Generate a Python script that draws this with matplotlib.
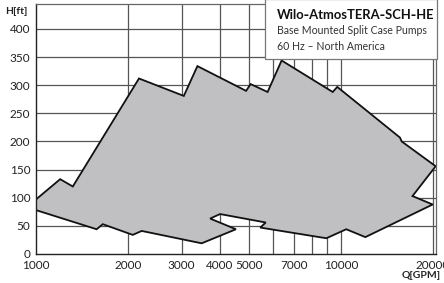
import numpy as np
import matplotlib
matplotlib.use("Agg")
import matplotlib.pyplot as plt
from matplotlib.patches import Polygon, Rectangle

plt.rcParams['font.family'] = ['Lato', 'DejaVu Sans']

# operating envelope, upper edge left->right then lower edge right->left
q_upper = [1000, 1200, 1320, 2175, 3050, 3380, 4880, 5050, 5740, 6380,
           9380, 9710, 15580, 15790, 20400, 17130, 19940]
h_upper = [97, 133, 120, 312, 281, 334, 290, 302, 288, 344,
           288, 297, 207, 200, 156, 103, 88]
q_lower = [12000, 10390, 8940, 5430, 5660, 4010, 3720, 4520, 3490,
           2220, 2075, 1655, 1580, 1000]
h_lower = [30, 44, 28, 47, 56, 71, 63, 44, 19,
           41, 34, 53, 44, 78]

x_ticks = [1000, 2000, 3000, 4000, 5000, 7000, 10000, 20000]
x_grid = [2000, 3000, 4000, 5000, 6000, 7000, 8000, 9000, 10000, 20000]
y_ticks = [0, 50, 100, 150, 200, 250, 300, 350, 400]

fig = plt.figure(figsize=(4.44, 2.83), dpi=100)
ax = fig.add_axes([36/444, 29/283, 400/444, 250/283])
ax.set_xscale('log')
ax.set_xlim(1000, 20450)
ax.set_ylim(0, 444.4)

for g in x_grid:
    ax.axvline(g, color='#555555', lw=0.9, zorder=1)
for g in y_ticks[1:]:
    ax.axhline(g, color='#555555', lw=0.9, zorder=1)

pts = np.column_stack([q_upper + q_lower, h_upper + h_lower])
ax.add_patch(Polygon(pts, closed=True, facecolor='#c0c0c2',
                     edgecolor='#111111', lw=1.3, zorder=2))

ax.set_xticks(x_ticks)
ax.set_xticklabels([str(v) for v in x_ticks])
ax.xaxis.set_minor_locator(matplotlib.ticker.NullLocator())
ax.set_yticks(y_ticks)
ax.tick_params(length=0, labelsize=8.5, colors='#222222', pad=4)
for s in ['top', 'right']:
    ax.spines[s].set_color('#666666')
    ax.spines[s].set_linewidth(0.9)
for s in ['left', 'bottom']:
    ax.spines[s].set_color('#222222')
    ax.spines[s].set_linewidth(1.0)

fig.text(5/444, 1 - 11/283, 'H[ft]', fontsize=7.5, fontweight='bold',
         va='center', ha='left', color='#222222')
fig.text(441/444, 1 - 276/283, 'Q[GPM]', fontsize=7.5, fontweight='bold',
         va='center', ha='right', color='#222222')

fig.patches.append(Rectangle((265/444, 1 - 59/283), 172/444, 60/283,
                             transform=fig.transFigure, facecolor='white',
                             edgecolor='#777777', lw=0.9, zorder=5))
fig.text(277/444, 1 - 15/283, 'Wilo\u2011AtmosTERA\u2011SCH\u2011HE', fontsize=9.4,
         fontweight='bold', va='center', ha='left', color='#111111', zorder=6)
fig.text(277/444, 1 - 30/283, 'Base Mounted Split Case Pumps', fontsize=7.6,
         va='center', ha='left', color='#333333', zorder=6)
fig.text(277/444, 1 - 46/283, '60 Hz \u2013 North America', fontsize=7.6,
         va='center', ha='left', color='#333333', zorder=6)

fig.savefig('out.png', dpi=100)
